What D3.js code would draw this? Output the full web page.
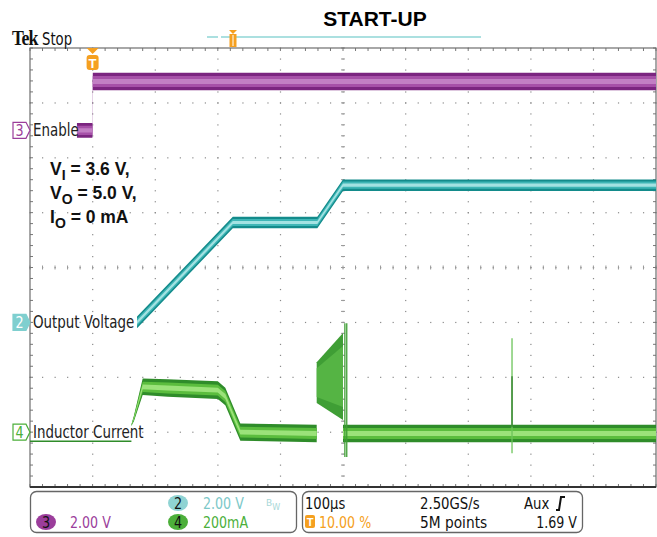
<!DOCTYPE html>
<html><head><meta charset="utf-8">
<script src="https://cdn.jsdelivr.net/npm/d3@7"></script>
<style>body{margin:0;background:#fff} svg{display:block}</style>
</head><body><svg id="c" width="657" height="537"></svg>
<script>
// ---------------- data ----------------
const timeDomain = [-100, 900];           // µs, 100 µs/div, trigger at 10 %
const divDomain = [-4, 4];
// CH3 Enable (V, 2 V/div, marker +2.5 div)
const enableT = [-25, -0.3, 0.3, 900];
const enableV = [0, 0, 1.78, 1.78];
const enableHalf = [0.27, 0.27, 0.32, 0.32];
// CH2 Output voltage (V, 2 V/div, marker -1 div)
const voutT = [71, 224, 359, 400, 900];
const voutV = [0, 3.64, 3.64, 5.0, 5.0];
const voutHalf = [0.21, 0.21, 0.21, 0.21, 0.21];
// CH4 Inductor current (mA, 200 mA/div, marker -3 div)
const ilBaseT = [-100, 62];
const ilBaseI = [-33, -33];
const ilT = [62, 66, 80, 120, 200, 212, 236, 358];
const ilI = [25, 50, 165, 161, 153, 130, 0, -5];
const ilHalf = [3, 10, 30, 32, 32, 32, 31, 32];
const burstT = [358, 400];
const burstTop = [255, 361];
const burstBot = [106, 44];
const ilTailT = [400, 900];
const ilTailI = [-5, -5];
const ilTailHalf = [32, 32];
const spikeT = [403, 406, 670];
const spikeHi = [397, 397, 342];
const spikeLo = [-91, -91, -77];
// labels
const titleText = "START-UP";
const chanLabels = ["Enable", "Output Voltage", "Inductor Current"];
const noteLines = [["V", "I", " = 3.6 V,"], ["V", "O", " = 5.0 V,"], ["I", "O", " = 0 mA"]];

// ---------------- layout ----------------
const svg = d3.select("#c");
const L = 30, R = 656, T = 48, B = 487;
const x = d3.scaleLinear().domain(timeDomain).range([L, R]);
const yDiv = d3.scaleLinear().domain(divDomain).range([B, T]);
const y3 = v => yDiv(v / 2 + 2.5);
const y2 = v => yDiv(v / 2 - 1);
const y4 = i => yDiv(i / 200 - 3);

const sansF = "'DejaVu Sans',sans-serif";
const bold = "'Liberation Sans',Arial,sans-serif";

// condensed text helper
function ctext(parent, xx, yy, str, size, color, sx, anchor) {
  return parent.append("text").attr("transform", `translate(${xx},${yy}) scale(${sx},1)`)
    .attr("font-family", sansF).attr("font-size", size).attr("fill", color)
    .attr("text-anchor", anchor || "start").text(str);
}

// ---------------- grid ----------------
const g = svg.append("g");
const dx = (R - L) / 10, dy = (B - T) / 8;
const dotC = "#8a8a8a";
for (let i = 1; i < 10; i++) {
  for (let j = 0; j <= 40; j++) {
    g.append("rect").attr("x", L + i * dx - 0.5).attr("y", T + j * dy / 5 - 0.5)
      .attr("width", 1.2).attr("height", 1.2).attr("fill", dotC);
  }
}
for (let k = 1; k < 8; k++) {
  for (let j = 0; j <= 50; j++) {
    g.append("rect").attr("x", L + j * dx / 5 - 0.5).attr("y", T + k * dy - 0.5)
      .attr("width", 1.2).attr("height", 1.2).attr("fill", dotC);
  }
}
for (let j = 0; j <= 50; j++) {
  const xx = L + j * dx / 5;
  g.append("line").attr("x1", xx).attr("x2", xx).attr("y1", T).attr("y2", T + 3).attr("stroke", "#777");
  g.append("line").attr("x1", xx).attr("x2", xx).attr("y1", B).attr("y2", B - 3).attr("stroke", "#777");
}
for (let j = 0; j <= 40; j++) {
  const yy = T + j * dy / 5;
  g.append("line").attr("x1", L).attr("x2", L + 3).attr("y1", yy).attr("y2", yy).attr("stroke", "#777");
  g.append("line").attr("x1", R).attr("x2", R - 3).attr("y1", yy).attr("y2", yy).attr("stroke", "#777");
}
for (let j = 0; j <= 50; j++) {
  const xx = L + j * dx / 5;
  g.append("line").attr("x1", xx).attr("x2", xx).attr("y1", yDiv(0) - 2).attr("y2", yDiv(0) + 2).attr("stroke", "#999");
}
for (let j = 0; j <= 40; j++) {
  const yy = T + j * dy / 5;
  g.append("line").attr("x1", x(400) - 2).attr("x2", x(400) + 2).attr("y1", yy).attr("y2", yy).attr("stroke", "#999");
}
g.append("rect").attr("x", L).attr("y", T).attr("width", R - L).attr("height", B - T)
  .attr("fill", "none").attr("stroke", "#6e6e6e").attr("stroke-width", 1.2);
g.append("line").attr("x1", L).attr("x2", R).attr("y1", B).attr("y2", B).attr("stroke", "#333").attr("stroke-width", 2);

// ---------------- traces ----------------
function band(ts, vs, hs, yf, colors) {
  const pts = ts.map((t, i) => ({ t, v: vs[i], h: hs[i] }));
  const fr = [1, 0.62, 0.28];
  fr.forEach((f, k) => {
    const a = d3.area().x(d => x(d.t)).y0(d => yf(d.v - d.h * f)).y1(d => yf(d.v + d.h * f));
    svg.append("path").datum(pts).attr("d", a).attr("fill", colors[k]);
  });
}
const purple = ["#7b2580", "#a650a8", "#c27fc4"];
const teal = ["#138b8b", "#3fb6b6", "#a3e2e2"];
const green = ["#2f8c2a", "#5bbd3e", "#9be27a"];

band(enableT, enableV, enableHalf, y3, purple);
band(voutT, voutV, voutHalf, y2, teal);

svg.append("path").datum(ilBaseT.map((t, i) => [t, ilBaseI[i]]))
  .attr("d", d3.line().x(d => x(d[0])).y(d => y4(d[1])))
  .attr("stroke", green[0]).attr("stroke-width", 1.6).attr("fill", "none");
band(ilT, ilI, ilHalf, y4, green);
const bpts = burstT.map((t, i) => ({ t, hi: burstTop[i], lo: burstBot[i] }));
svg.append("path").datum(bpts)
  .attr("d", d3.area().x(d => x(d.t)).y0(d => y4(d.lo)).y1(d => y4(d.hi)))
  .attr("fill", "#3f9e35");
svg.append("path").datum(bpts)
  .attr("d", d3.area().x(d => x(d.t)).y0(d => y4(d.lo + (d.hi - d.lo) * 0.15)).y1(d => y4(d.hi - (d.hi - d.lo) * 0.15)))
  .attr("fill", "#55b444");
band(ilTailT, ilTailI, ilTailHalf, y4, green);
spikeT.forEach((t, i) => {
  svg.append("line").attr("x1", x(t)).attr("x2", x(t)).attr("y1", y4(spikeHi[i])).attr("y2", y4(spikeLo[i]))
    .attr("stroke", i < 2 ? "#3f9e35" : "#6cc45a").attr("stroke-width", 1.3);
});
svg.append("line").attr("x1", x(670)).attr("x2", x(670)).attr("y1", y4(204)).attr("y2", y4(20))
  .attr("stroke", "#2f7d2a").attr("stroke-width", 1.3);

// ---------------- channel markers & labels ----------------
function marker(yc, num, stroke, fill, txt) {
  const p = `M13,${yc - 8} L26,${yc - 8} L30,${yc} L26,${yc + 8} L13,${yc + 8} Z`;
  svg.append("path").attr("d", p).attr("fill", fill).attr("stroke", stroke).attr("stroke-width", 1.2);
  ctext(svg, 19.5, yc + 5.5, num, 15, txt, 0.85, "middle");
}
marker(y3(0), "3", "#9b3d9b", "#fff", "#9b3d9b");
marker(y2(0), "2", "#7fcfcf", "#7fcfcf", "#fff");
marker(y4(0), "4", "#4caf3a", "#fff", "#4caf3a");
[[y3(0), chanLabels[0]], [y2(0), chanLabels[1]], [y4(0), chanLabels[2]]].forEach(([yy, t]) => {
  ctext(svg, 33, yy + 6, t, 17, "#222", 0.79);
});

// trigger marker on grid
const tx = x(0);
svg.append("path").attr("d", `M${tx - 6},${T} L${tx + 6},${T} L${tx},${T + 6} Z`).attr("fill", "#f5a020");
svg.append("rect").attr("x", tx - 6).attr("y", T + 7).attr("width", 12).attr("height", 15).attr("rx", 3).attr("fill", "#f5a020");
svg.append("text").attr("x", tx).attr("y", T + 19.5).attr("text-anchor", "middle").attr("font-family", bold)
  .attr("font-weight", "bold").attr("font-size", 13).attr("fill", "#fff").text("T");

// ---------------- header ----------------
svg.append("text").attr("x", 375).attr("y", 26).attr("text-anchor", "middle").attr("font-family", bold)
  .attr("font-weight", "bold").attr("font-size", 21).attr("fill", "#000").text(titleText);
svg.append("text").attr("transform", "translate(12,45) scale(0.85,1)")
  .attr("font-family", "'Liberation Serif','DejaVu Serif',serif")
  .attr("font-weight", "bold").attr("font-size", 21).attr("letter-spacing", -1).attr("fill", "#111").text("Tek");
ctext(svg, 42, 45, "Stop", 17, "#111", 0.78);
svg.append("line").attr("x1", 207).attr("x2", 218).attr("y1", 37).attr("y2", 37).attr("stroke", "#8fd6d6").attr("stroke-width", 1.5);
svg.append("line").attr("x1", 221).attr("x2", 481).attr("y1", 37).attr("y2", 37).attr("stroke", "#8fd6d6").attr("stroke-width", 1.5);
svg.append("rect").attr("x", 229.5).attr("y", 34).attr("width", 7).attr("height", 13).attr("fill", "#f5a020");
svg.append("path").attr("d", "M229,30 L237,30 L233,34 Z").attr("fill", "#f5a020");
svg.append("line").attr("x1", 233).attr("x2", 233).attr("y1", 35).attr("y2", 46).attr("stroke", "#fff").attr("stroke-width", 1);

// ---------------- annotation ----------------
noteLines.forEach((ln, i) => {
  const t = svg.append("text").attr("x", 50).attr("y", 175 + i * 24).attr("font-family", bold)
    .attr("font-weight", "bold").attr("font-size", 17.5).attr("fill", "#111");
  t.append("tspan").text(ln[0]);
  t.append("tspan").attr("dy", 5).attr("font-size", 14).text(ln[1]);
  t.append("tspan").attr("dy", -5).text(ln[2]);
});

// ---------------- status bar ----------------
const sb = svg.append("g");
sb.append("rect").attr("x", 30.5).attr("y", 491.5).attr("width", 266).attr("height", 41).attr("rx", 6)
  .attr("fill", "none").attr("stroke", "#666").attr("stroke-width", 1.3);
sb.append("rect").attr("x", 302.5).attr("y", 491.5).attr("width", 280).attr("height", 41).attr("rx", 6)
  .attr("fill", "none").attr("stroke", "#666").attr("stroke-width", 1.3);
function chip(cx, cy, n, fill) {
  sb.append("ellipse").attr("cx", cx).attr("cy", cy).attr("rx", 10).attr("ry", 8).attr("fill", fill);
  ctext(sb, cx, cy + 5.5, n, 16, "#111", 0.8, "middle");
}
chip(178, 503, "2", "#8fd3d3");
chip(46, 522, "3", "#9b3d9b");
chip(178, 522, "4", "#4caf3a");
const sx = 0.79;
ctext(sb, 203, 509, "2.00 V", 16, "#7cc8c8", sx);
const bw = sb.append("text").attr("x", 266).attr("y", 506).attr("font-family", sansF)
  .attr("font-size", 9).attr("fill", "#a8d8d8");
bw.append("tspan").text("B");
bw.append("tspan").attr("dy", 4).attr("font-size", 8).text("W");
ctext(sb, 70, 528, "2.00 V", 16, "#9b3d9b", sx);
ctext(sb, 203, 528, "200mA", 16, "#4caf3a", sx);
ctext(sb, 305, 509, "100µs", 16, "#111", 0.82);
ctext(sb, 420, 509, "2.50GS/s", 16, "#111", 0.83);
ctext(sb, 524, 509, "Aux", 16, "#111", 0.83);
sb.append("path").attr("d", "M556,510 L559,510 L561,497 L565,497").attr("stroke", "#111").attr("stroke-width", 2).attr("fill", "none");
sb.append("rect").attr("x", 305).attr("y", 515).attr("width", 10).attr("height", 13).attr("rx", 2).attr("fill", "#f5a020");
sb.append("text").attr("x", 310).attr("y", 526).attr("text-anchor", "middle").attr("font-family", bold)
  .attr("font-size", 11).attr("font-weight", "bold").attr("fill", "#fff").text("T");
ctext(sb, 319, 528, "10.00 %", 16, "#f5a020", sx);
ctext(sb, 420, 528, "5M points", 16, "#111", 0.86);
ctext(sb, 577, 528, "1.69 V", 16, "#111", sx, "end");
</script></body></html>
